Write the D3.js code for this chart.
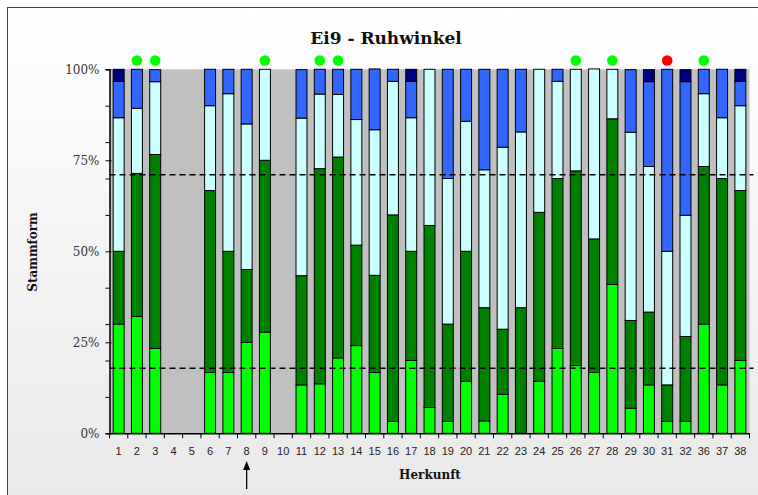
<!DOCTYPE html>
<html>
<head>
<meta charset="utf-8">
<script src="https://cdn.jsdelivr.net/npm/d3@7"></script>
<style>
  body { margin: 0; background: #fff; }
  svg { display: block; }
</style>
</head>
<body>
<div id="chart"></div>
<script>
// Herkunft (x categories)
var herkunft = ["1","2","3","4","5","6","7","8","9","10","11","12","13","14","15","16","17","18","19","20",
                "21","22","23","24","25","26","27","28","29","30","31","32","36","37","38"];

// Stammform shares in % per Herkunft, stacked from the bottom
var form1 = [30.0,32.1,23.3,0,0,16.7,16.7,25.0,27.8,0,13.3,13.6,20.7,24.1,16.7,3.3,20.0,7.1,3.3,14.3,
             3.4,10.7,0,14.3,23.3,18.6,16.7,40.9,6.9,13.3,3.3,3.3,30.0,13.3,20.0];
var form2 = [20.0,39.3,53.3,0,0,50.0,33.3,20.0,47.2,0,30.0,59.1,55.2,27.6,26.7,56.7,30.0,50.0,26.7,35.7,
             31.1,17.9,34.5,46.4,46.7,53.5,36.7,45.5,24.1,20.0,10.0,23.3,43.3,56.7,46.7];
var form3 = [36.7,17.9,20.0,0,0,23.3,43.3,40.0,25.0,0,43.3,20.5,17.2,34.5,40.0,36.7,36.7,42.9,40.0,35.7,
             37.9,50.0,48.3,39.3,26.7,27.9,46.7,13.6,51.7,40.0,36.7,33.3,20.0,16.7,23.3];
var form4 = [10.0,10.7,3.3,0,0,10.0,6.7,15.0,0,0,13.3,6.8,6.9,13.8,16.7,3.3,10.0,0,30.0,14.3,
             27.6,21.4,17.2,0,3.3,0,0,0,17.2,23.3,50.0,36.7,6.7,13.3,6.7];
var form5 = [3.3,0,0,0,0,0,0,0,0,0,0,0,0,0,0,0,3.3,0,0,0,
             0,0,0,0,0,0,0,0,0,3.3,0,3.3,0,0,3.3];

var seriesKeys = ["form1","form2","form3","form4","form5"];
var seriesColors = ["#00ff00","#008000","#ccffff","#3366ff","#000080"];

// markers above bars
var greenMarks = ["2","3","9","12","13","26","28","36"];
var redMarks = ["31"];

// dashed reference lines (%)
var refLines = [71.0, 17.9];

var yTicks = [0,25,50,75,100];
var yMinorTicks = [10,20,30,40,60,70,80,90];

var arrowAt = "8";

var width = 758, height = 495;
var margin = {top: 69.3, right: 7.5, bottom: 61.7, left: 109.5};

var svg = d3.select("#chart")
  .append("svg")
    .attr("width", width)
    .attr("height", height);

// background frame with soft gradient
var grad = svg.append("defs").append("linearGradient")
    .attr("id", "bg").attr("x1", 0).attr("y1", 0).attr("x2", 0).attr("y2", 1);
grad.append("stop").attr("offset", "0%").attr("stop-color", "#ffffff");
grad.append("stop").attr("offset", "100%").attr("stop-color", "#e4e4e4");

svg.append("rect")
    .attr("x", 7.5).attr("y", 7.5)
    .attr("width", 800).attr("height", 600)
    .attr("fill", "url(#bg)")
    .attr("stroke", "#444")
    .attr("stroke-width", 1);

var table = herkunft.map(function(h, i) {
  return {h: h, form1: form1[i], form2: form2[i], form3: form3[i], form4: form4[i], form5: form5[i]};
});

var x = d3.scaleBand()
  .domain(herkunft)
  .range([margin.left, width - margin.right - 1])
  .paddingInner(0.4)
  .paddingOuter(0.2);

var y = d3.scaleLinear()
  .domain([0, 100])
  .range([height - margin.bottom, margin.top]);

// plot area
svg.append("rect")
    .attr("x", x.range()[0])
    .attr("y", y(100))
    .attr("width", x.range()[1] - x.range()[0])
    .attr("height", y(0) - y(100))
    .attr("fill", "#c0c0c0");

var stack = d3.stack().keys(seriesKeys);
var layers = stack(table);

svg.append("g")
  .selectAll("g")
  .data(layers)
  .enter().append("g")
    .attr("fill", function(d, i) { return seriesColors[i]; })
  .selectAll("rect")
  .data(function(d) { return d.filter(function(p) { return p[1] - p[0] > 0; }); })
  .enter().append("rect")
    .attr("x", function(d) { return x(d.data.h); })
    .attr("y", function(d) { return y(d[1]); })
    .attr("width", x.bandwidth())
    .attr("height", function(d) { return y(d[0]) - y(d[1]); })
    .attr("stroke", "#000")
    .attr("stroke-width", 1);

// dashed reference lines
svg.append("g")
  .selectAll("line")
  .data(refLines)
  .enter().append("line")
    .attr("x1", x.range()[0])
    .attr("x2", x.range()[1] + 4)
    .attr("y1", function(d) { return y(d); })
    .attr("y2", function(d) { return y(d); })
    .attr("stroke", "#000")
    .attr("stroke-width", 1.5)
    .attr("stroke-dasharray", "6,4");

// y axis
var yAxis = svg.append("g")
  .attr("transform", "translate(" + x.range()[0] + ",0)")
  .call(d3.axisLeft(y).tickValues(yTicks).tickSize(4).tickPadding(6)
        .tickFormat(function(d) { return d + "%"; }));
yAxis.select(".domain").attr("stroke", "#000").attr("stroke-width", 1.5);
yAxis.selectAll(".tick line").attr("stroke", "#000").attr("x2", -4).attr("x1", 2);
yAxis.selectAll("text")
  .style("font-family", "'DejaVu Serif', serif")
  .style("font-size", "12px")
  .attr("fill", "#333");

var yMinor = svg.append("g")
  .attr("transform", "translate(" + x.range()[0] + ",0)")
  .call(d3.axisLeft(y).tickValues(yMinorTicks).tickSize(4).tickFormat(""));
yMinor.select(".domain").remove();
yMinor.selectAll(".tick line").attr("stroke", "#000");

// x axis: labels at bar centres, ticks between the bars
var xAxis = svg.append("g")
  .attr("transform", "translate(0," + y(0) + ")")
  .call(d3.axisBottom(x).tickSize(0).tickPadding(14));
xAxis.select(".domain").attr("stroke", "#000").attr("stroke-width", 1.5);
xAxis.selectAll("text")
  .style("font-family", "'Liberation Sans', Arial, sans-serif")
  .style("font-size", "11px")
  .attr("fill", "#222");

var bounds = herkunft.map(function(h) { return x(h) - x.step() * x.paddingInner() / 2; });
bounds.push(x.range()[1]);
svg.append("g")
  .selectAll("line")
  .data(bounds)
  .enter().append("line")
    .attr("x1", function(d) { return d; })
    .attr("x2", function(d) { return d; })
    .attr("y1", y(0))
    .attr("y2", y(0) + 5)
    .attr("stroke", "#000");

// markers
svg.append("g")
  .selectAll("circle")
  .data(greenMarks.map(function(h) { return {h: h, c: "#00ff00"}; })
        .concat(redMarks.map(function(h) { return {h: h, c: "#ff0000"}; })))
  .enter().append("circle")
    .attr("cx", function(d) { return x(d.h) + x.bandwidth() / 2; })
    .attr("cy", 60.5)
    .attr("r", 5.3)
    .attr("fill", function(d) { return d.c; });

// arrow under Herkunft 8
var ax = x(arrowAt) + x.bandwidth() / 2;
svg.append("line")
  .attr("x1", ax).attr("x2", ax)
  .attr("y1", 489).attr("y2", 468)
  .attr("stroke", "#000")
  .attr("stroke-width", 1.3);
svg.append("path")
  .attr("d", "M" + (ax - 3.5) + ",470 L" + ax + ",461 L" + (ax + 3.5) + ",470 Z")
  .attr("fill", "#000");

// titles
svg.append("text")
  .text("Ei9 - Ruhwinkel")
  .attr("x", 386)
  .attr("y", 44)
  .attr("text-anchor", "middle")
  .style("font-family", "'DejaVu Serif', serif")
  .style("font-weight", "bold")
  .style("font-size", "17px")
  .attr("fill", "#111");

svg.append("text")
  .text("Stammform")
  .attr("transform", "translate(37,252) rotate(-90)")
  .attr("text-anchor", "middle")
  .style("font-family", "'DejaVu Serif', serif")
  .style("font-weight", "bold")
  .style("font-size", "12px")
  .attr("fill", "#111");

svg.append("text")
  .text("Herkunft")
  .attr("x", 430)
  .attr("y", 479)
  .attr("text-anchor", "middle")
  .style("font-family", "'DejaVu Serif', serif")
  .style("font-weight", "bold")
  .style("font-size", "12px")
  .attr("fill", "#111");
</script>
</body>
</html>
